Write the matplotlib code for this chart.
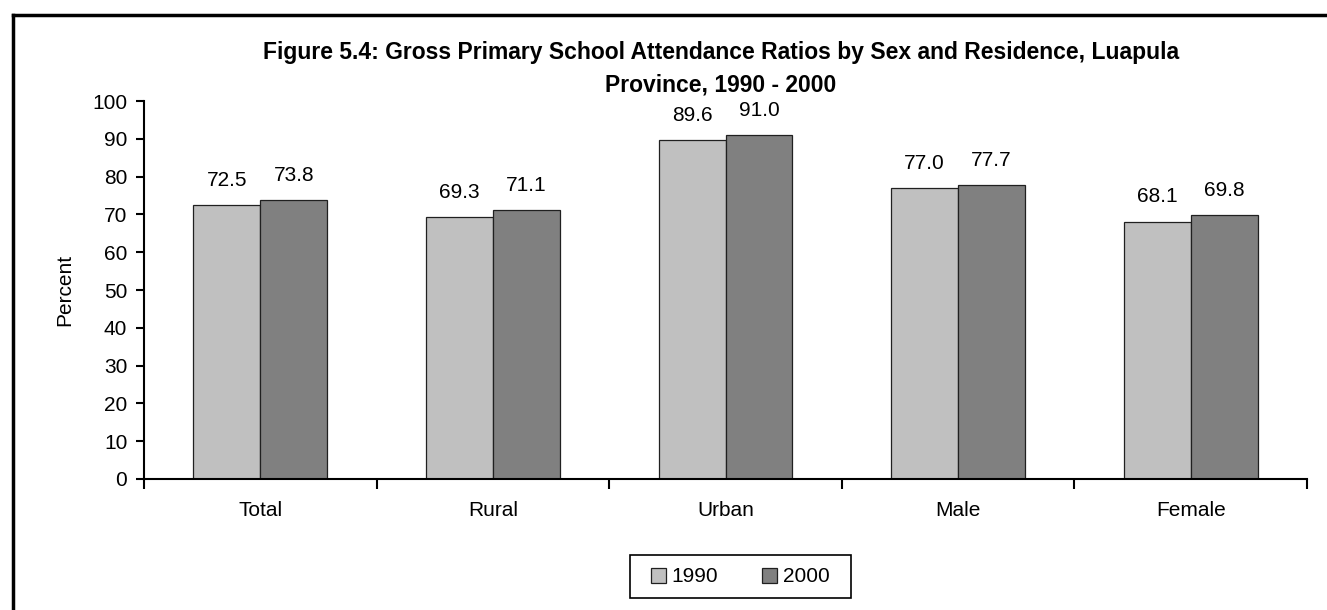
import matplotlib
matplotlib.use("Agg")
import matplotlib.pyplot as plt
import numpy as np
from matplotlib.lines import Line2D
from matplotlib.patches import Rectangle

plt.rcParams['font.family'] = ['Liberation Sans', 'DejaVu Sans']

categories = ["Total", "Rural", "Urban", "Male", "Female"]
v1990 = [72.5, 69.3, 89.6, 77.0, 68.1]
v2000 = [73.8, 71.1, 91.0, 77.7, 69.8]
series_names = ["1990", "2000"]
title = "Figure 5.4: Gross Primary School Attendance Ratios by Sex and Residence, Luapula\nProvince, 1990 - 2000"

W, H = 1327, 610
FS = 15
fig = plt.figure(figsize=(W/100, H/100), dpi=100)
ax = fig.add_axes([144/W, 1-479/H, (1307-144)/W, (479-101)/H])

x = np.arange(len(categories))
bw = 0.288
b1 = ax.bar(x - bw/2, v1990, bw, color="#C0C0C0", edgecolor="#202020", linewidth=0.9, label=series_names[0])
b2 = ax.bar(x + bw/2, v2000, bw, color="#808080", edgecolor="#202020", linewidth=0.9, label=series_names[1])
for bars, vals in ((b1, v1990), (b2, v2000)):
    for r, v in zip(bars, vals):
        ax.annotate(f"{v:.1f}", (r.get_x() + r.get_width()/2, v), xytext=(0, 11),
                    textcoords="offset points", ha="center", va="bottom", fontsize=FS)

ax.set_xlim(-0.5, len(categories) - 0.5)
ax.set_ylim(0, 100)
ax.set_yticks(range(0, 101, 10))
ax.set_xticks(np.arange(-0.5, len(categories), 1))
ax.set_xticklabels([])
ax.set_xticks(x, minor=True)
ax.set_xticklabels(categories, minor=True)
ax.tick_params(axis="x", which="major", direction="out", length=7, width=1.5)
ax.tick_params(axis="x", which="minor", length=0, pad=16, labelsize=FS)
ax.tick_params(axis="y", direction="out", length=6, width=1.5, labelsize=FS, pad=6)
for s in ("top", "right"):
    ax.spines[s].set_visible(False)
for s in ("left", "bottom"):
    ax.spines[s].set_linewidth(1.5)
ax.set_ylabel("Percent", fontsize=FS, labelpad=13)

fig.text(721/W, 1-69/H, title, ha="center", va="center", fontsize=16.5, fontweight="bold", linespacing=1.53)

# legend box frame
fig.add_artist(Rectangle((630/W, 1-598/H), (851-630)/W, (598-555)/H, transform=fig.transFigure,
                         fill=False, edgecolor="black", linewidth=1.2))
leg = ax.legend(loc="center", bbox_to_anchor=(740/W, 1-577/H), bbox_transform=fig.transFigure,
                ncol=2, frameon=False, fontsize=FS,
                handlelength=0.75, handleheight=0.75, handletextpad=0.25, columnspacing=2.1,
                borderpad=0.55)

# outer frame (left and top visible)
fig.add_artist(Line2D([13/W, 13/W], [0, 1-15/H], transform=fig.transFigure, color="black", lw=2.5))
fig.add_artist(Line2D([13/W, 1], [1-15/H, 1-15/H], transform=fig.transFigure, color="black", lw=2.5))

fig.savefig("out.png", dpi=100)
